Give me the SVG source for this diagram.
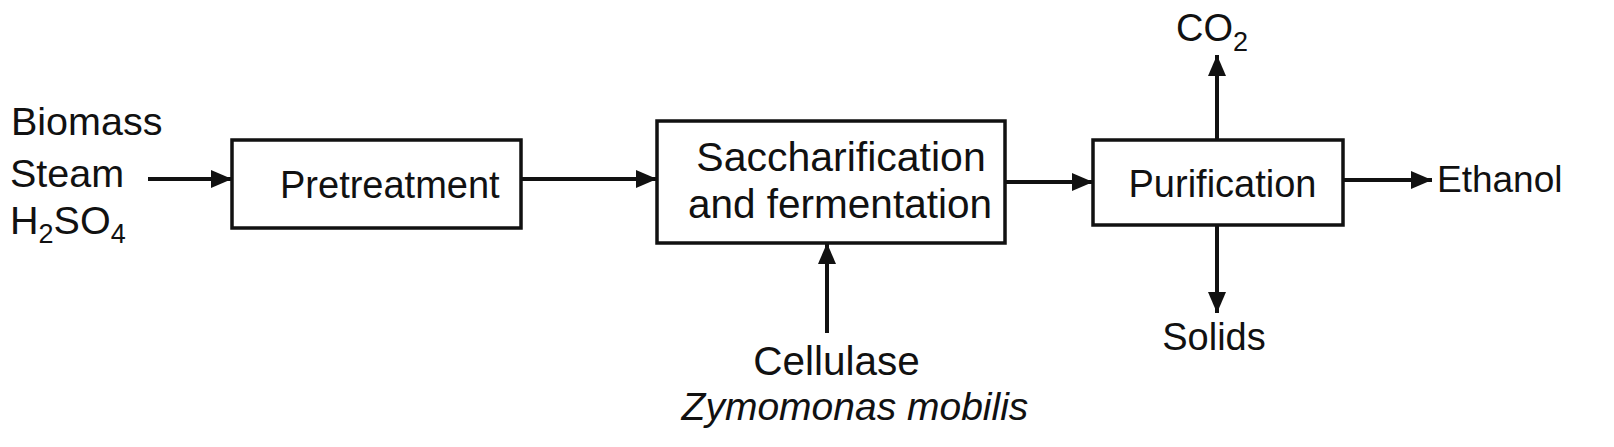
<svg xmlns="http://www.w3.org/2000/svg" width="1614" height="447" viewBox="0 0 1614 447">
<style>
text{font-family:"Liberation Sans",Arial,sans-serif;font-size:38px;fill:#111}
.box{fill:#fff;stroke:#111;stroke-width:3.5}
.c{stroke:#111;stroke-width:4;fill:none}
.sub{font-size:27px}
.in{font-size:39.5px}
</style>
<defs>
<marker id="ah" markerUnits="userSpaceOnUse" markerWidth="22" markerHeight="18" refX="21" refY="9" orient="auto">
<path d="M0,0 L21,9 L0,18 z" fill="#111"/>
</marker>
</defs>
<rect width="1614" height="447" fill="#fff"/>
<g id="inputs">
<text class="in" x="11" y="135">Biomass</text>
<text class="in" x="10" y="187">Steam</text>
<text class="in" x="10" y="234">H<tspan class="sub" dy="9">2</tspan><tspan dy="-9">SO</tspan><tspan class="sub" dy="9">4</tspan></text>
</g>
<g id="pretreatment">
<rect class="box" x="232" y="140" width="289" height="88"/>
<text x="280" y="198">Pretreatment</text>
</g>
<g id="saccharification">
<rect class="box" x="657" y="121" width="348" height="122"/>
<text x="841" y="171" text-anchor="middle" style="font-size:41px">Saccharification</text>
<text x="840" y="218" text-anchor="middle" style="font-size:40.5px">and fermentation</text>
</g>
<g id="purification">
<rect class="box" x="1093" y="140" width="250" height="85"/>
<text x="1222.5" y="197" text-anchor="middle">Purification</text>
</g>
<g id="co2"><text x="1176" y="41">CO<tspan class="sub" dy="10">2</tspan></text></g>
<g id="solids"><text x="1214" y="350" text-anchor="middle">Solids</text></g>
<g id="ethanol"><text x="1437" y="192" style="font-size:37px">Ethanol</text></g>
<g id="enzymes">
<text x="836.5" y="375" text-anchor="middle" style="font-size:40.5px">Cellulase</text>
<text x="855" y="420" text-anchor="middle" font-style="italic" style="font-size:39px">Zymomonas mobilis</text>
</g>
<g id="connectors">
<line class="c" x1="148" y1="179" x2="232" y2="179" marker-end="url(#ah)"/>
<line class="c" x1="521" y1="179" x2="657" y2="179" marker-end="url(#ah)"/>
<line class="c" x1="1005" y1="182" x2="1093" y2="182" marker-end="url(#ah)"/>
<line class="c" x1="1343" y1="180" x2="1432" y2="180" marker-end="url(#ah)"/>
<line class="c" x1="1217" y1="140" x2="1217" y2="55" marker-end="url(#ah)"/>
<line class="c" x1="1217" y1="225" x2="1217" y2="313" marker-end="url(#ah)"/>
<line class="c" x1="827" y1="333" x2="827" y2="243" marker-end="url(#ah)"/>
</g>
</svg>
